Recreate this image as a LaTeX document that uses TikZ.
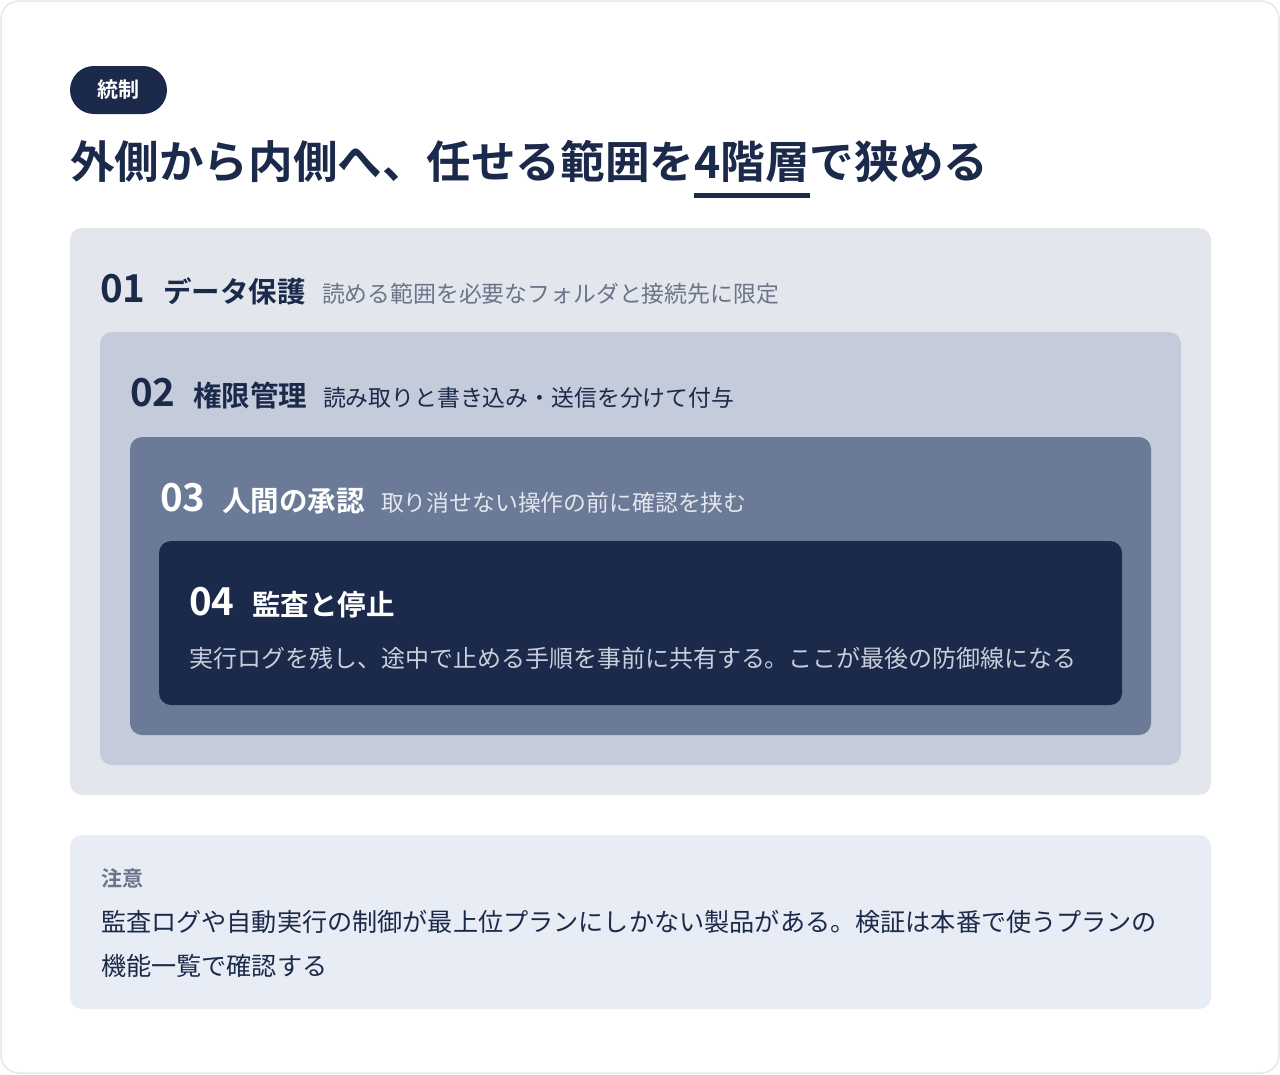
\documentclass[tikz,border=0pt]{standalone}
\usepackage{fontspec}
\setmainfont{Noto Sans CJK JP}[BoldFont={Noto Sans CJK JP Bold}]
\definecolor{navy}{HTML}{1B2A4A}
\definecolor{cardline}{HTML}{E5E7EB}
\definecolor{lone}{HTML}{E3E7ED}
\definecolor{ltwo}{HTML}{C4CBDA}
\definecolor{lthree}{HTML}{6B7A96}
\definecolor{notebg}{HTML}{E8ECF4}
\definecolor{descone}{HTML}{6B7589}
\definecolor{descthree}{HTML}{E2E6EE}
\definecolor{descfour}{HTML}{C7CEDC}
\definecolor{notelabel}{HTML}{6B7589}
\tikzset{
  panel/.style={anchor=north west, inner sep=0pt, outer sep=0pt, rounded corners=12pt, draw=none},
  txt/.style={anchor=base west, inner sep=0pt, outer sep=0pt},
  num/.style={txt, font=\fontsize{38.5}{44}\selectfont\bfseries},
  ttl/.style={txt, font=\fontsize{28.5}{34}\selectfont\bfseries},
  dsc/.style={txt, font=\fontsize{22.85}{28}\selectfont},
}
\begin{document}
\begin{tikzpicture}[x=1pt,y=-1pt]
\useasboundingbox (0,0) rectangle (1280,1074);
\draw[fill=white, draw=cardline, line width=1.5pt, rounded corners=18pt] (1,1) rectangle (1279,1073);

% pill
\node[panel, fill=navy, rounded corners=24pt, minimum width=97pt, minimum height=48pt] (pill) at (70,66) {};
\node[inner sep=0pt, text=white, font=\fontsize{21}{24}\selectfont\bfseries] (pilltxt) at (pill.center) {統制};

% title
\node[txt, text=navy, font=\fontsize{44.6}{52}\selectfont\bfseries] (title) at (70,178) {外側から内側へ、任せる範囲を4階層で狭める};
\node[panel, fill=navy, rounded corners=0pt, minimum width=116pt, minimum height=5pt] (uline) at (694,193) {};

% layers
\node[panel, fill=lone, minimum width=1141pt, minimum height=567pt] (L1) at (70,228) {};
\node[panel, fill=ltwo, minimum width=1081pt, minimum height=433pt] (L2) at (100,332) {};
\node[panel, fill=lthree, minimum width=1021pt, minimum height=298pt] (L3) at (130,437) {};
\node[panel, fill=navy, minimum width=963pt, minimum height=164pt] (L4) at (159,541) {};

% row 1
\node[num, text=navy] (n1) at (100,302) {01};
\node[ttl, text=navy] (t1) at (163,302) {データ保護};
\node[dsc, text=descone] (d1) at (322,302) {読める範囲を必要なフォルダと接続先に限定};
% row 2
\node[num, text=navy] (n2) at (130,406) {02};
\node[ttl, text=navy] (t2) at (193,406) {権限管理};
\node[dsc, text=navy] (d2) at (323,406) {読み取りと書き込み・送信を分けて付与};
% row 3
\node[num, text=white] (n3) at (160,511) {03};
\node[ttl, text=white] (t3) at (222,511) {人間の承認};
\node[dsc, text=descthree] (d3) at (381,511) {取り消せない操作の前に確認を挟む};
% row 4
\node[num, text=white] (n4) at (189,615) {04};
\node[ttl, text=white] (t4) at (252,615) {監査と停止};
\node[txt, text=descfour, font=\fontsize{24}{29}\selectfont] (d4) at (189,667) {実行ログを残し、途中で止める手順を事前に共有する。ここが最後の防御線になる};

% note
\node[panel, fill=notebg, minimum width=1141pt, minimum height=174pt] (note) at (70,835) {};
\node[txt, text=notelabel, font=\fontsize{21}{24}\selectfont\bfseries] (nlabel) at (101,886) {注意};
\node[txt, text=navy, font=\fontsize{25.15}{30}\selectfont] (nl1) at (101,931) {監査ログや自動実行の制御が最上位プランにしかない製品がある。検証は本番で使うプランの};
\node[txt, text=navy, font=\fontsize{25.15}{30}\selectfont] (nl2) at (101,975) {機能一覧で確認する};
\end{tikzpicture}
\end{document}
